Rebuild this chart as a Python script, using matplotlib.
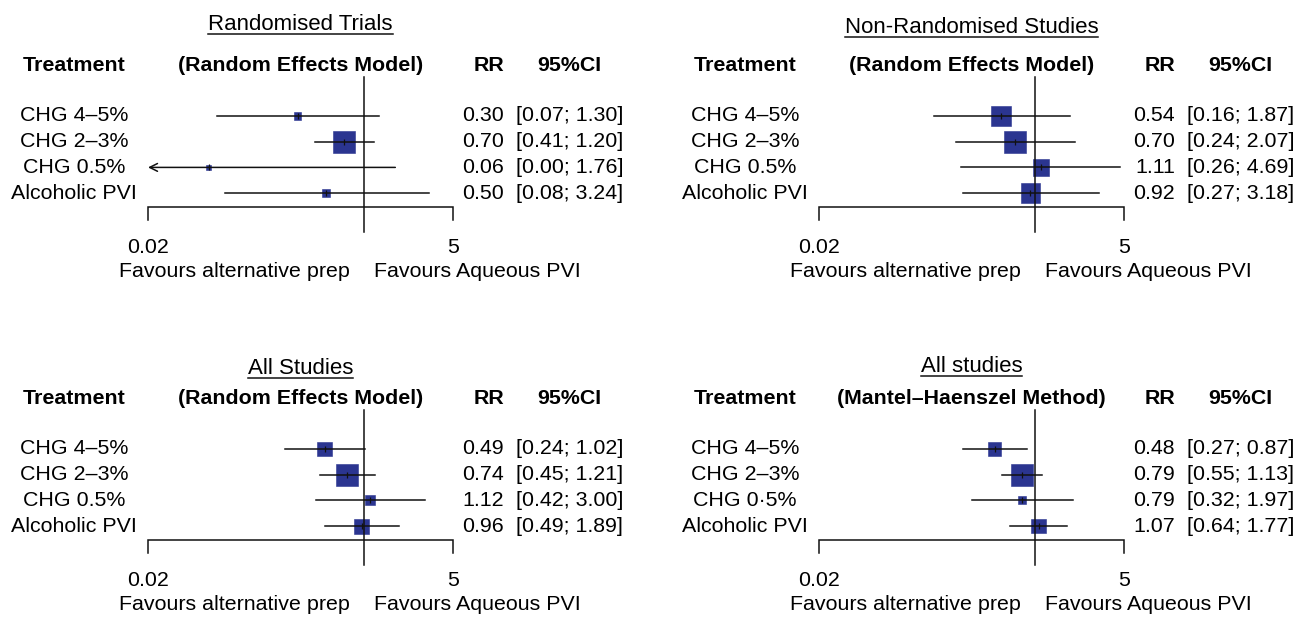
import numpy as np
import matplotlib
matplotlib.use("Agg")
from matplotlib import pyplot as plt

plt.rcParams['font.family'] = ['Liberation Sans', 'DejaVu Sans']

# ---- data -------------------------------------------------------------
titles = ["Randomised Trials", "Non-Randomised Studies", "All Studies", "All studies"]
methods = ["(Random Effects Model)", "(Random Effects Model)",
           "(Random Effects Model)", "(Mantel\u2013Haenszel Method)"]
treatments = ["CHG 4\u20135%", "CHG 2\u20133%", "CHG 0.5%", "Alcoholic PVI"]
treatments_mh = ["CHG 4\u20135%", "CHG 2\u20133%", "CHG 0\u00b75%", "Alcoholic PVI"]

rr_rand = [0.30, 0.70, 0.06, 0.50]
lo_rand = [0.07, 0.41, 0.00, 0.08]
hi_rand = [1.30, 1.20, 1.76, 3.24]
w_rand = [0.35, 1.0, 0.2, 0.35]

rr_nonrand = [0.54, 0.70, 1.11, 0.92]
lo_nonrand = [0.16, 0.24, 0.26, 0.27]
hi_nonrand = [1.87, 2.07, 4.69, 3.18]
w_nonrand = [0.9, 1.0, 0.76, 0.88]

rr_all_re = [0.49, 0.74, 1.12, 0.96]
lo_all_re = [0.24, 0.45, 0.42, 0.49]
hi_all_re = [1.02, 1.21, 3.00, 1.89]
w_all_re = [0.66, 1.0, 0.45, 0.68]

rr_all_mh = [0.48, 0.79, 0.79, 1.07]
lo_all_mh = [0.27, 0.55, 0.32, 0.64]
hi_all_mh = [0.87, 1.13, 1.97, 1.77]
w_all_mh = [0.6, 1.0, 0.36, 0.67]

xmin, xmax = 0.02, 5
tick_labels = ["0.02", "5"]
left_lab = "Favours alternative prep"
right_lab = "Favours Aqueous PVI"

# ---- layout (pixels) ----------------------------------------------------
W, H = 1295, 617
AX_W = 305
ROW = 25.7
BOX_MAX = 22
SQ_COL = '#2b3590'
LC = '#111111'

fig = plt.figure(figsize=(W / 100, H / 100), dpi=100)
fig.patch.set_facecolor('white')


def forest(x0, row0, title, title_dy, method, labels, rr, lo, hi, w):
    top = row0 - 1.5 * ROW
    bot = row0 + 3.55 * ROW
    ax = fig.add_axes([x0 / W, 1 - bot / H, AX_W / W, (bot - top) / H])
    ax.set_xscale('log')
    ax.set_xlim(xmin, xmax)
    ax.set_ylim(-3.55, 1.5)
    ax.axis('off')
    tr = ax.get_yaxis_transform()
    fs = 15.4
    y = -np.arange(len(rr))

    # reference line at RR = 1
    ax.plot([1, 1], [1.5, -4.5], color=LC, lw=1.1, clip_on=False, zorder=4)
    # bracket axis
    ax.plot([xmin, xmin, xmax, xmax], [-4.05, -3.55, -3.55, -4.05],
            color=LC, lw=1.1, clip_on=False, solid_joinstyle='miter')
    for v, t in zip([xmin, xmax], tick_labels):
        ax.text(v, -5.1, t, ha='center', va='center', fontsize=fs)
    ax.text(0.662, -6.05, left_lab, transform=tr, ha='right', va='center', fontsize=fs)
    ax.text(0.741, -6.05, right_lab, transform=tr, ha='left', va='center', fontsize=fs)

    # squares sized by weight
    sizes = (np.array(w) * BOX_MAX * 0.72) ** 2
    ax.scatter(rr, y, s=sizes, marker='s', color=SQ_COL, edgecolor=SQ_COL,
               linewidth=0.4, zorder=2, clip_on=False)
    ax.scatter(rr, y, s=25, marker='|', color=LC, linewidth=0.9, zorder=5, clip_on=False)
    for yi, l, h in zip(y, lo, hi):
        if l < xmin:
            ax.annotate('', xy=(xmin, yi), xytext=(h, yi),
                        arrowprops=dict(arrowstyle='->', color=LC, lw=1.1,
                                        mutation_scale=14, shrinkA=0, shrinkB=0),
                        zorder=3, annotation_clip=False)
        else:
            ax.plot([l, h], [yi, yi], color=LC, lw=1.1, zorder=3, clip_on=False)

    # text columns
    for yi, lab, r, l, h in zip(y, labels, rr, lo, hi):
        ax.text(-0.243, yi, lab, transform=tr, ha='center', va='center', fontsize=fs)
        ax.text(1.167, yi, f"{r:.2f}", transform=tr, ha='right', va='center', fontsize=fs)
        ax.text(1.383, yi, f"[{l:.2f}; {h:.2f}]", transform=tr, ha='center',
                va='center', fontsize=fs)

    ax.text(-0.243, 1.97, "Treatment", transform=tr, ha='center', va='center',
            fontsize=fs, fontweight='bold')
    ax.text(0.5, 1.97, method, transform=tr, ha='center', va='center',
            fontsize=fs, fontweight='bold')
    ax.text(1.167, 1.97, "RR", transform=tr, ha='right', va='center',
            fontsize=fs, fontweight='bold')
    ax.text(1.38, 1.97, "95%CI", transform=tr, ha='center', va='center',
            fontsize=fs, fontweight='bold')
    t = ax.text(0.5, title_dy, title, transform=tr, ha='center', va='center', fontsize=16)
    return t


panel_titles = []
panel_titles.append(forest(148, 116, titles[0], 3.55, methods[0], treatments,
                           rr_rand, lo_rand, hi_rand, w_rand))
panel_titles.append(forest(819, 116, titles[1], 3.45, methods[1], treatments,
                           rr_nonrand, lo_nonrand, hi_nonrand, w_nonrand))
panel_titles.append(forest(148, 449, titles[2], 3.15, methods[2], treatments,
                           rr_all_re, lo_all_re, hi_all_re, w_all_re))
panel_titles.append(forest(819, 449, titles[3], 3.22, methods[3], treatments_mh,
                           rr_all_mh, lo_all_mh, hi_all_mh, w_all_mh))

# underline the panel titles
fig.canvas.draw()
renderer = fig.canvas.get_renderer()
for t in panel_titles:
    bb = t.get_window_extent(renderer)
    yy = bb.y0 + 1
    fig.add_artist(plt.Line2D([bb.x0 / W, bb.x1 / W], [yy / H, yy / H],
                              transform=fig.transFigure, color=LC, lw=1.1))

fig.savefig("out.png", dpi=100)
